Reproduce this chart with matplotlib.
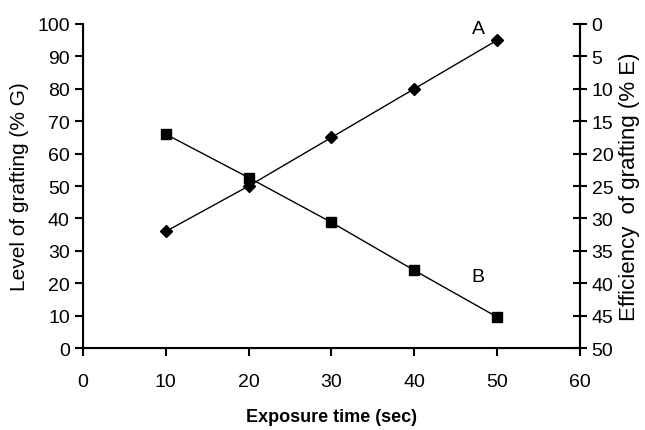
import matplotlib.pyplot as plt
import numpy as np
from matplotlib import font_manager

# data
time_s = [10, 20, 30, 40, 50]
grafting_G = [36, 50, 65, 80, 95]          # series A, left axis
efficiency_E = [17, 23.7, 30.6, 38, 45.2]  # series B, right axis (inverted)

names = {f.name for f in font_manager.fontManager.ttflist}
fam = 'Liberation Sans Narrow' if 'Liberation Sans Narrow' in names else 'Liberation Sans'
plt.rcParams['font.family'] = [fam, 'DejaVu Sans']

fig = plt.figure(figsize=(6.45, 4.31), dpi=100)
ax = fig.add_axes([0.1287, 0.190, 0.899 - 0.1287, 0.942 - 0.190])

ax.plot(time_s, grafting_G, color='black', lw=1, marker='D', ms=6)
ax.set_xlim(0, 60)
ax.set_ylim(0, 100)
ax.set_xticks(np.arange(0, 61, 10))
ax.set_yticks(np.arange(0, 101, 10))
ax.spines['top'].set_visible(False)
for s in ['left', 'bottom', 'right']:
    ax.spines[s].set_linewidth(1.5)
ax.tick_params(labelsize=14, width=1.5, length=6)
ax.tick_params(axis='x', pad=12)
ax.set_ylabel('Level of grafting (% G)', fontsize=15, labelpad=6)
ax.set_xlabel('Exposure time (sec)', fontsize=13, fontweight='bold', labelpad=13)

ax2 = ax.twinx()
ax2.plot(time_s, efficiency_E, color='black', lw=1, marker='s', ms=6.5)
ax2.set_ylim(50, 0)
ax2.set_yticks(np.arange(0, 51, 5))
ax2.spines['top'].set_visible(False)
ax2.spines['right'].set_linewidth(1.5)
ax2.tick_params(labelsize=14, width=1.5, length=10, direction='inout')
ax2.set_ylabel('Efficiency  of grafting (% E)', fontsize=16, labelpad=4)

ax.text(47.7, 98.5, 'A', fontsize=14, ha='center', va='center')
ax.text(47.7, 22, 'B', fontsize=14, ha='center', va='center')

fig.savefig('out.png', dpi=100)
